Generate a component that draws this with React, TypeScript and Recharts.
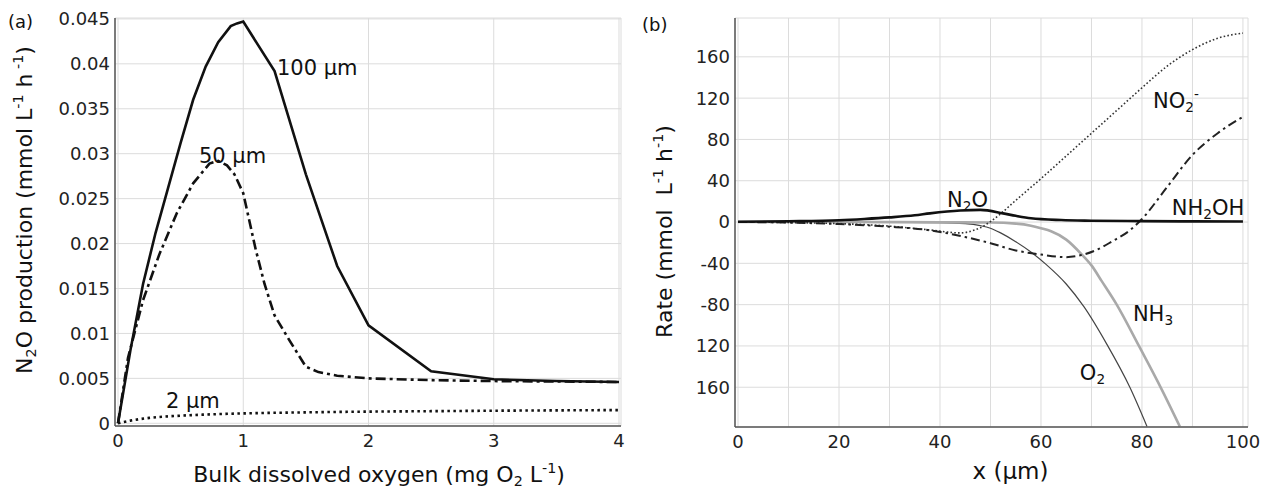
import React from 'react'
import { LineChart, Line, XAxis, YAxis, CartesianGrid, ReferenceDot, Label } from 'recharts'

// (a) N2O production vs bulk DO for three biofilm thicknesses
const do100X = [0, 0.1, 0.2, 0.3, 0.4, 0.5, 0.6, 0.7, 0.8, 0.9, 0.95, 1, 1.25, 1.5, 1.75, 2, 2.5, 3, 3.5, 4]
const do100Y = [0, 0.0082, 0.0155, 0.0212, 0.0262, 0.0312, 0.036, 0.0397, 0.0424, 0.0442, 0.0445, 0.0447, 0.0392, 0.0277, 0.0175, 0.0109, 0.0058, 0.0049, 0.0047, 0.0046]
const do50X = [0, 0.08, 0.2, 0.33, 0.47, 0.6, 0.73, 0.8, 0.87, 0.93, 1, 1.1, 1.17, 1.25, 1.37, 1.5, 1.6, 1.75, 2, 2.5, 3, 4]
const do50Y = [0, 0.0073, 0.0137, 0.0188, 0.0234, 0.0267, 0.0289, 0.0292, 0.0287, 0.0277, 0.0256, 0.0193, 0.0155, 0.012, 0.0092, 0.0063, 0.0057, 0.0053, 0.005, 0.0048, 0.0047, 0.0046]
const do2X = [0, 0.1, 0.25, 0.5, 0.75, 1, 1.5, 2, 2.5, 3, 3.5, 4]
const do2Y = [0, 0.0003, 0.0006, 0.00085, 0.001, 0.0011, 0.00122, 0.0013, 0.00135, 0.0014, 0.00144, 0.00147]
const doTicks = [0, 1, 2, 3, 4]
const n2oTicks = [0, 0.005, 0.01, 0.015, 0.02, 0.025, 0.03, 0.035, 0.04, 0.045]

// (b) rate profiles across the biofilm
const n2oX = [0, 10, 20, 25, 30, 35, 38, 44, 48, 52.5, 55, 58, 64, 70, 80, 90, 100]
const n2oY = [0.3, 0.8, 1.8, 3, 4.5, 6.5, 8.4, 11.2, 11.8, 8.4, 6, 3.6, 1.9, 1.3, 0.9, 0.6, 0.5]
const no2X = [0, 10, 20, 30, 38, 44, 47, 48, 50, 52, 55, 60, 65, 70, 75, 80, 85, 90, 95, 100]
const no2Y = [0, -0.5, -1.5, -4, -7.7, -10.5, -7.5, -5.5, 0.5, 8, 21, 42, 64, 86, 108, 130, 151, 167, 178, 183]
const nh2ohX = [0, 10, 20, 30, 38, 45, 50, 55, 60, 65, 68, 71, 74, 77.6, 80, 85, 90, 95, 100]
const nh2ohY = [0, -0.5, -2, -4.5, -8, -14.5, -20.5, -27.5, -31.5, -34, -32, -27, -19, -8, 3, 34, 65, 86, 102]
const nh3X = [0, 20, 40, 50, 55, 58, 60, 62, 65, 68, 70, 72, 75, 79.4, 83.9, 87.5]
const nh3Y = [0, 0, -0.3, -0.5, -1.5, -3.5, -6, -9, -17, -31, -42, -57, -80, -120, -162, -198]
const o2X = [0, 20, 30, 40, 45, 48, 50, 52, 55, 58, 61, 65, 68.5, 73, 77.6, 81]
const o2Y = [0, 0, -0.2, -0.5, -1.5, -3.5, -6, -10.5, -19, -29, -41, -60, -82, -118, -160, -198]
const xTicks = [0, 10, 20, 30, 40, 50, 60, 70, 80, 90, 100]
const xBoxTicks = [0, 20, 40, 60, 80, 100]
const rateTicks = [-160, -120, -80, -40, 0, 40, 80, 120, 160]
const rateTickText = ['160', '120', '-80', '-40', '0', '40', '80', '120', '160']

const zip = (xs: number[], ys: number[]) => xs.map((x, i) => ({ x, y: ys[i] }))

const FONT = 'DejaVu Sans'
const tickStyle = { fill: '#222', fontSize: 18, fontFamily: FONT }
const axisStyle = { stroke: '#555', strokeWidth: 1.5 }
const boxStyle = { stroke: '#444', strokeWidth: 1 }

// '_x' = subscript, '^x' = superscript
function Rich({ x, y, parts, size = 21, anchor = 'start', vertical = false }: any) {
  let shift = 0
  return (
    <text
      x={x}
      y={y}
      textAnchor={anchor}
      fontSize={size}
      fontFamily={FONT}
      fill="#111"
      style={{ whiteSpace: 'pre' }}
      transform={vertical ? `rotate(-90, ${x}, ${y})` : undefined}
    >
      {parts.map((p: string, i: number) => {
        const kind = p[0] === '_' ? 'sub' : p[0] === '^' ? 'sup' : 'n'
        const txt = kind === 'n' ? p : p.slice(1)
        const target = kind === 'sub' ? size * 0.2 : kind === 'sup' ? -size * 0.42 : 0
        const dy = target - shift
        shift = target
        return (
          <tspan key={i} dy={dy} fontSize={kind === 'n' ? size : size * 0.65}>
            {txt}
          </tspan>
        )
      })}
    </text>
  )
}

const note = (parts: string[]) => (p: any) => <Rich x={p.viewBox.x} y={p.viewBox.y} parts={parts} />

function PanelA() {
  return (
    <LineChart width={630} height={489} margin={{ top: 18, right: 9, left: 0, bottom: 0 }}>
      <CartesianGrid stroke="#dcdcdc" />
      <XAxis dataKey="x" type="number" domain={[-0.024, 4.016]} ticks={doTicks} allowDataOverflow height={63}
        tickLine={false} tickSize={0} tickMargin={8} axisLine={axisStyle} tick={tickStyle}>
        <Label content={(p: any) => (
          <Rich x={p.viewBox.x + p.viewBox.width / 2 + 11} y={p.viewBox.y + 56} size={22} anchor="middle"
            parts={['Bulk dissolved oxygen (mg O', '_2', ' L', '^-1', ')']} />
        )} />
      </XAxis>
      <XAxis xAxisId="top" orientation="top" dataKey="x" type="number" domain={[-0.024, 4.016]} ticks={doTicks}
        allowDataOverflow height={0} mirror tick={false} tickSize={4} axisLine={boxStyle} tickLine={boxStyle} />
      <YAxis type="number" domain={[-0.0003, 0.0451]} ticks={n2oTicks} allowDataOverflow width={115}
        tickLine={false} tickSize={0} tickMargin={5} axisLine={axisStyle} tick={tickStyle}
        tickFormatter={(v: number) => String(Number(v.toFixed(3)))}>
        <Label content={(p: any) => (
          <Rich x={p.viewBox.x + 32} y={p.viewBox.y + p.viewBox.height / 2 - 12} size={22} anchor="middle" vertical
            parts={['N', '_2', 'O production (mmol L', '^-1', ' h', '^ -1', ')']} />
        )} />
      </YAxis>
      <YAxis yAxisId="right" orientation="right" type="number" domain={[-0.0003, 0.0451]} ticks={n2oTicks}
        allowDataOverflow width={0} mirror tick={false} tickSize={4} axisLine={boxStyle} tickLine={boxStyle} />

      <Line data={zip(do100X, do100Y)} dataKey="y" type="linear" stroke="#111" strokeWidth={2.6} dot={false} isAnimationActive={false} />
      <Line data={zip(do50X, do50Y)} dataKey="y" type="linear" stroke="#111" strokeWidth={2.6} strokeDasharray="10 4 3 4" dot={false} isAnimationActive={false} />
      <Line data={zip(do2X, do2Y)} dataKey="y" type="monotone" stroke="#111" strokeWidth={2.6} strokeDasharray="2.5 3.5" dot={false} isAnimationActive={false} />

      <ReferenceDot x={1.269} y={0.0388} r={0} fill="none" stroke="none" label={{ content: note(['100 µm']) }} />
      <ReferenceDot x={0.646} y={0.029} r={0} fill="none" stroke="none" label={{ content: note(['50 µm']) }} />
      <ReferenceDot x={0.383} y={0.00167} r={0} fill="none" stroke="none" label={{ content: note(['2 µm']) }} />
    </LineChart>
  )
}

function PanelB() {
  return (
    <LineChart width={642} height={489} margin={{ top: 18, right: 14, left: 0, bottom: 0 }}>
      <CartesianGrid stroke="#dcdcdc" />
      <XAxis dataKey="x" type="number" domain={[-0.6, 101]} ticks={xTicks} allowDataOverflow height={62}
        tickLine={false} tickSize={0} tickMargin={8} axisLine={axisStyle} tick={tickStyle}
        tickFormatter={(v: number) => (v % 20 === 0 ? String(v) : '')}>
        <Label content={(p: any) => (
          <Rich x={p.viewBox.x + p.viewBox.width / 2 + 19} y={p.viewBox.y + 52} size={23} anchor="middle"
            parts={['x (µm)']} />
        )} />
      </XAxis>
      <XAxis xAxisId="top" orientation="top" dataKey="x" type="number" domain={[-0.6, 101]} ticks={xBoxTicks}
        allowDataOverflow height={0} mirror tick={false} tickSize={4} axisLine={boxStyle} tickLine={boxStyle} />
      <YAxis type="number" domain={[-198.5, 197.6]} ticks={rateTicks} allowDataOverflow width={115}
        tickLine={false} tickSize={0} tickMargin={5} axisLine={axisStyle} tick={tickStyle}
        tickFormatter={(v: number) => rateTickText[rateTicks.indexOf(v)]}>
        <Label content={(p: any) => (
          <Rich x={p.viewBox.x + 52} y={p.viewBox.y + p.viewBox.height / 2 + 9} size={22} anchor="middle" vertical
            parts={['Rate (mmol  L', '^-1', ' h', '^-1', ')']} />
        )} />
      </YAxis>
      <YAxis yAxisId="right" orientation="right" type="number" domain={[-198.5, 197.6]} ticks={rateTicks}
        allowDataOverflow width={0} mirror tick={false} tickSize={4} axisLine={boxStyle} tickLine={boxStyle} />

      <Line data={zip(o2X, o2Y)} dataKey="y" type="monotone" stroke="#444" strokeWidth={1.2} dot={false} isAnimationActive={false} />
      <Line data={zip(nh3X, nh3Y)} dataKey="y" type="monotone" stroke="#a9a9a9" strokeWidth={2.6} dot={false} isAnimationActive={false} />
      <Line data={zip(no2X, no2Y)} dataKey="y" type="monotone" stroke="#333" strokeWidth={1.6} strokeDasharray="1.6 2.2" dot={false} isAnimationActive={false} />
      <Line data={zip(nh2ohX, nh2ohY)} dataKey="y" type="monotone" stroke="#222" strokeWidth={2} strokeDasharray="9 4 2.5 4" dot={false} isAnimationActive={false} />
      <Line data={zip(n2oX, n2oY)} dataKey="y" type="monotone" stroke="#111" strokeWidth={2.6} dot={false} isAnimationActive={false} />

      <ReferenceDot x={41.4} y={14.5} r={0} fill="none" stroke="none" label={{ content: note(['N', '_2', 'O']) }} />
      <ReferenceDot x={82.2} y={110.4} r={0} fill="none" stroke="none" label={{ content: note(['NO', '_2', '^-']) }} />
      <ReferenceDot x={85.9} y={6.8} r={0} fill="none" stroke="none" label={{ content: note(['NH', '_2', 'OH']) }} />
      <ReferenceDot x={78.2} y={-95.9} r={0} fill="none" stroke="none" label={{ content: note(['NH', '_3']) }} />
      <ReferenceDot x={67.7} y={-153} r={0} fill="none" stroke="none" label={{ content: note(['O', '_2']) }} />
    </LineChart>
  )
}

export default function App() {
  const tag = { position: 'absolute' as const, fontFamily: FONT, fontSize: 18, lineHeight: '18px', color: '#111' }
  return (
    <div style={{ position: 'absolute', left: 0, top: 0, width: 1262, height: 489, background: '#fff', overflow: 'hidden' }}>
      <div style={{ position: 'absolute', left: 0, top: 0 }}>
        <PanelA />
      </div>
      <div style={{ position: 'absolute', left: 620, top: 0 }}>
        <PanelB />
      </div>
      <span style={{ ...tag, left: 8, top: 13 }}>(a)</span>
      <span style={{ ...tag, left: 642, top: 16 }}>(b)</span>
    </div>
  )
}
